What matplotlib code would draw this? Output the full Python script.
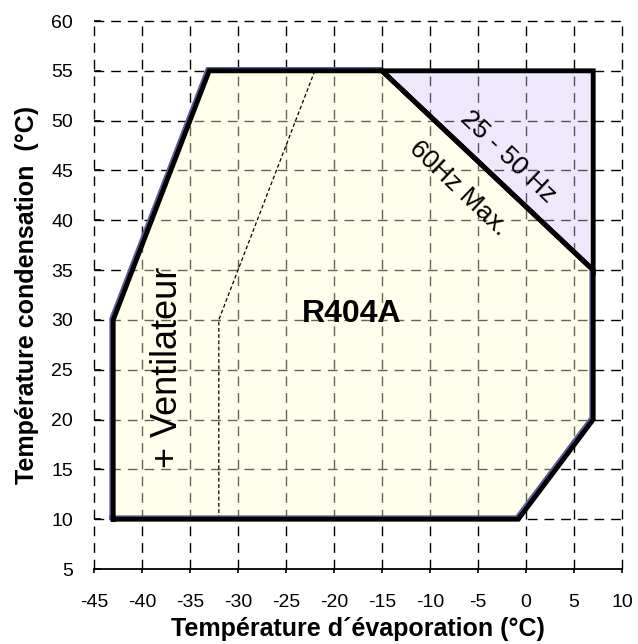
import matplotlib
matplotlib.use('Agg')
import matplotlib.pyplot as plt
import matplotlib.patheffects as pe
from matplotlib.patches import Polygon

# operating envelope R404A
envelope_x = [-43, -43, -33, -15, 7, 7, -0.8]
envelope_y = [10, 30, 55, 55, 35, 20, 10]

# 25-50 Hz zone
hz_x = [-15, 7, 7]
hz_y = [55, 55, 35]

# fan limit (dashed)
fan_x = [-32, -32, -22]
fan_y = [10, 30, 55]

x_ticks = list(range(-45, 11, 5))
y_ticks = list(range(5, 61, 5))

plt.rcParams['font.family'] = ['Liberation Sans', 'DejaVu Sans']
plt.rcParams['axes.unicode_minus'] = False

fig = plt.figure(figsize=(6.38, 6.44), dpi=100)
ax = fig.add_axes([94 / 638, 75 / 644, 528 / 638, 548 / 644])
ax.set_xlim(-45, 10)
ax.set_ylim(5, 60)

# dashed grid, drawn by hand so the border lines show too
for xv in x_ticks:
    ax.axvline(xv, color='black', lw=1.0, dashes=(7, 5), zorder=0, clip_on=False)
for yv in y_ticks[1:]:
    ax.axhline(yv, color='black', lw=1.0, dashes=(7, 5), zorder=0, clip_on=False)

env_pts = list(zip(envelope_x, envelope_y))
ax.add_patch(Polygon(env_pts, closed=True, facecolor='#FFFFCD', alpha=0.4,
                     edgecolor='none', zorder=1))
hz_pts = list(zip(hz_x, hz_y))
ax.add_patch(Polygon(hz_pts, closed=True, facecolor='#D9C5F7', alpha=0.4,
                     edgecolor='none', zorder=1))

ax.plot(fan_x, fan_y, color='black', lw=0.9, dashes=(3, 2), zorder=2)

shadow = [pe.SimpleLineShadow(offset=(-1.0, 1.0), shadow_color='#5C5C9E',
                              alpha=1, rho=1), pe.Normal()]
ax.plot(envelope_x + envelope_x[:1], envelope_y + envelope_y[:1],
        color='black', lw=3.5, solid_joinstyle='miter', zorder=3,
        path_effects=shadow)
ax.plot(hz_x + hz_x[:1], hz_y + hz_y[:1], color='black', lw=3.5,
        solid_joinstyle='miter', zorder=4)

ax.text(-18.2, 30.6, 'R404A', fontsize=23, fontweight='bold',
        ha='center', va='center', zorder=5)
ax.text(-37.3, 25.2, '+ Ventilateur', fontsize=26, rotation=90,
        ha='center', va='center', zorder=5)
ax.text(-1.9, 46.4, '25 - 50 Hz', fontsize=19, rotation=-43.5,
        ha='center', va='center', rotation_mode='anchor', zorder=5)
ax.text(-7.0, 43.2, '60Hz Max.', fontsize=19, rotation=-43.5,
        ha='center', va='center', rotation_mode='anchor', zorder=5)

for side in ['left', 'top', 'right']:
    ax.spines[side].set_visible(False)
ax.spines['bottom'].set_linewidth(1.3)
ax.spines['bottom'].set_zorder(6)

ax.set_xticks(x_ticks)
ax.set_yticks(y_ticks)
ax.tick_params(axis='x', direction='out', length=3, width=1.2, pad=15,
               labelsize=14)
ax.tick_params(axis='y', direction='in', length=5, width=1.2, pad=15,
               labelsize=14)

ax.set_xlabel('Température d\u00b4évaporation (°C)', fontsize=18,
              fontweight='bold', labelpad=4)
ax.set_ylabel('Température condensation  (°C)', fontsize=18,
              fontweight='bold', labelpad=9)

fig.savefig('out.png', dpi=100)
